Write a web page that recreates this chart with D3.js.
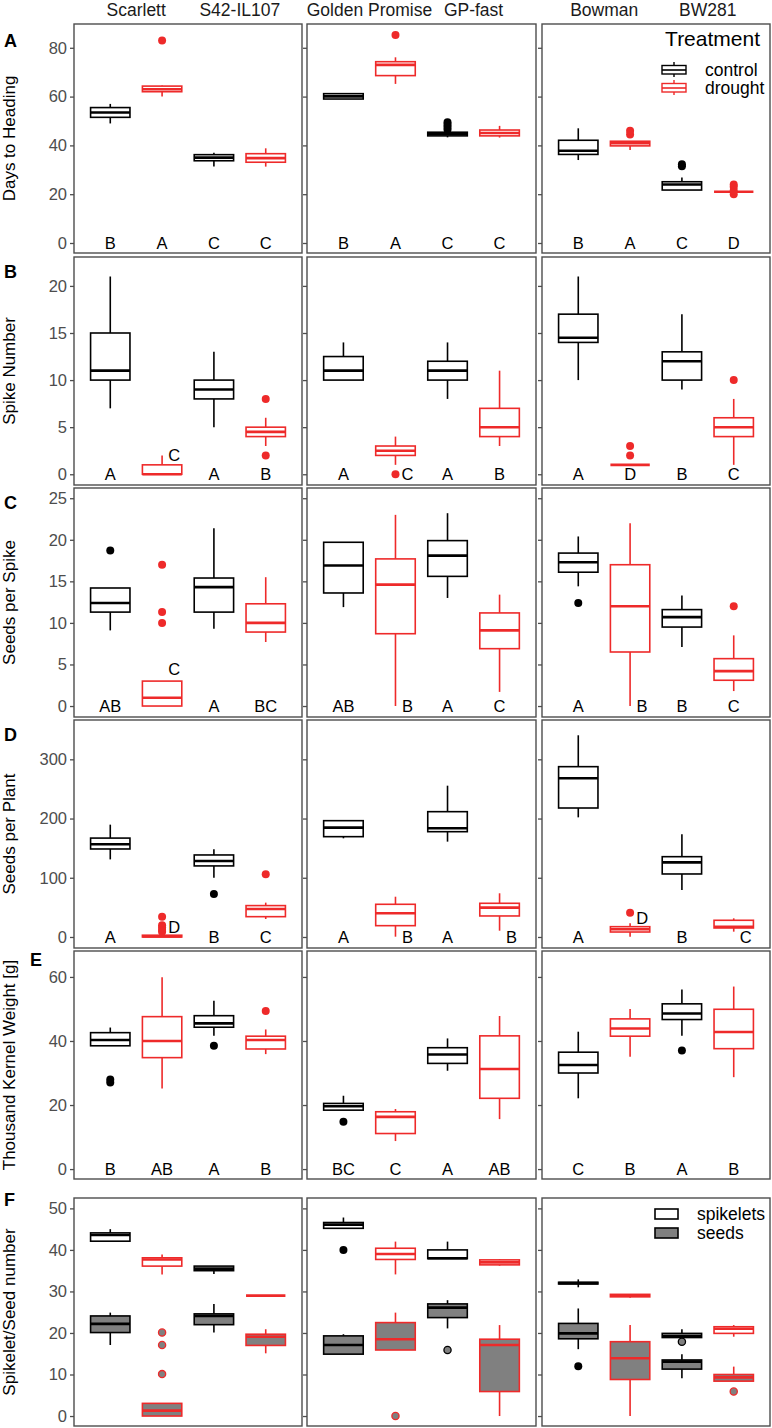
<!DOCTYPE html>
<html><head><meta charset="utf-8">
<script src="https://cdn.jsdelivr.net/npm/d3@7"></script>
<style>body{margin:0;background:#fff}svg{display:block}text{font-family:"Liberation Sans",Arial,sans-serif}</style>
</head><body><svg id="c" width="772" height="1428"></svg>
<script>
// ---------- data ----------
const genotypes = ["Scarlett","S42-IL107","Golden Promise","GP-fast","Bowman","BW281"];
const treatments = ["control","drought"];
// box stats per group, order: genotype x treatment: [min, q1, median, q3, max]
const daysToHeading = [[49,51.5,53.5,55.5,57],[60,62,63,64.3,64.5],[31.3,33.7,35,36.2,37],[31.3,33.1,34.8,36.6,38.8],
  [59,59,60.1,61.2,61.2],[65.2,68.6,73,74.3,76.1],[43.3,43.9,44.7,45.4,45.4],[43.2,43.9,45.1,46.3,48],
  [34,36.3,37.8,42.1,47],[38.1,39.8,40.9,41.7,41.7],[21.7,21.7,24,25.1,26.8],[21,21,21,21,21]];
const daysToHeadingOut = [[],[83],[],[],[],[85.2],[46.5,47.5,48.5,49.5],[],[],[44.5,46],[31.5,32.3],[20,21.5,23,24]];
const daysToHeadingLetters = ["B","A","C","C","B","A","C","C","B","A","C","D"];
const daysToHeadingLetterY = [0,0,0,0,0,0,0,0,0,0,0,0];

const spikeNumber = [[7,10,11,15,21],[0,0,0,1,2],[5,8,9,10,13],[3,4,4.5,5,6],
  [10,10,11,12.5,14],[1,2,2.5,3,4],[8,10,11,12,14],[3,4,5,7,11],
  [10,14,14.5,17,21],[1,1,1,1,1],[9,10,12,13,17],[1,4,5,6,8]];
const spikeNumberOut = [[],[],[],[8,2],[],[0],[],[],[],[2,3],[],[10]];
const spikeNumberLetters = ["A","C","A","B","A","C","A","B","A","D","B","C"];
const spikeNumberLetterY = [0,2,0,0,0,0,0,0,0,0,0,0];

const seedsPerSpike = [[9.1,11.3,12.4,14.2,14.2],[0,0,1,3,3],[9.3,11.3,14.3,15.4,21.4],[7.7,8.9,10,12.3,15.5],
  [11.9,13.6,16.9,19.7,19.7],[0,8.7,14.6,17.7,23],[13,15.6,18.1,19.9,23.2],[1.7,6.9,9.1,11.2,13.4],
  [14.4,16.1,17.3,18.4,20.4],[0,6.5,12,17,22],[7.1,9.5,10.7,11.6,13.3],[1.8,3.1,4.2,5.7,8.5]];
const seedsPerSpikeOut = [[18.7],[17,11.3,10],[],[],[],[],[],[],[12.4],[],[],[12]];
const seedsPerSpikeLetters = ["AB","C","A","BC","AB","B","A","C","A","B","B","C"];
const seedsPerSpikeLetterY = [0,4.5,0,0,0,0,0,0,0,0,0,0];

const seedsPerPlant = [[131,148.6,156.5,167,189.7],[0,0,1,3,5],[100,120,128.3,138.5,148],[30.4,34.3,47.3,53,58],
  [166.6,169.4,184.6,196.4,196.4],[0.5,19.1,40,55.2,68],[161,177.8,183.5,211.6,255.5],[10.6,35.5,49.5,56.9,73.8],
  [202,217.8,268,287.6,340.6],[0.5,8.4,13,17.4,23],[79.4,106.4,126,135.6,173.4],[9,15.2,17.4,28.2,31.5]];
const seedsPerPlantOut = [[],[34,20,16,12,9],[72.6],[106],[],[],[],[],[],[41],[],[]];
const seedsPerPlantLetters = ["A","D","B","C","A","B","A","B","A","D","B","C"];
const seedsPerPlantLetterY = [0,17,0,0,0,0,0,0,0,31.6,0,0];

const kernelWeight = [[38.5,38.5,40.3,42.6,44.2],[25.2,34.8,40,47.6,59.9],[41.6,44.3,45.5,47.9,52.6],[35.9,37.5,40.3,41.5,43.6],
  [18.4,18.4,19.6,20.5,22.9],[8.75,11.1,16.3,17.9,18.75],[30.7,33,35.8,37.9,40.8],[15.6,22.1,31.25,41.6,47.8],
  [22.1,30,32.5,36.5,42.9],[35.1,41.5,43.9,46.9,50],[41.6,46.7,48.6,51.6,56.1],[28.7,37.6,42.8,49.9,57]];
const kernelWeightOut = [[27,28],[],[38.5],[49.4],[14.8],[],[],[],[],[],[37],[]];
const kernelWeightLetters = ["B","AB","A","B","BC","C","A","AB","C","B","A","B"];
const kernelWeightLetterY = [0,0,0,0,0,0,0,0,0,0,0,0];

const spikelets = [[42.1,42.1,43.6,44.1,45],[34.1,36.1,37.7,38.1,38.9],[34.2,35,35.5,36.1,36.1],[29,29,29,29,29],
  [45.2,45.2,46.1,46.6,47.8],[34.1,37.7,39,40.4,42],[37.9,37.9,38,40,42],[36.2,36.4,37,37.6,37.8],
  [31,31.8,32,32.2,32.9],[28.5,28.7,29,29.3,29.4],[18.9,18.9,19.3,19.9,20.9],[19.1,19.9,21,21.5,21.9]];
const spikeletsOut = [[],[],[],[],[40],[],[],[],[12],[],[],[]];
const seeds = [[17.1,20.1,22.2,24.1,24.9],[0,0,1.3,3.05,3.05],[20.1,22,24.1,24.6,27],[15.1,17,19.1,19.7,20.9],
  [14.9,14.9,17.1,19.3,19.7],[15.9,15.9,18.5,22.5,24.9],[21.1,23.7,26.1,27,27.9],[0,5.9,17.1,18.5,21.9],
  [16.1,18.6,19.9,22.3,25.9],[0,8.8,13.9,17.9,21.9],[9.1,11.3,13.1,13.5,14.9],[8.4,8.4,9.3,10,11.9]];
const seedsOut = [[],[20.1,17.1,10.1],[],[],[],[0],[15.9],[],[],[],[17.9],[5.9]];

const countTypes = ["spikelets","seeds"];

// ---------- layout ----------
const C_CTRL = "#000000", C_DRT = "#ee2a2a", GREY = "#808080", FRAME = "#4d4d4d";
const tColor = t => t === 0 ? C_CTRL : C_DRT;
const svg = d3.select("#c");
const cols = [[74,302],[307,536],[542,770]];
const rows = [
  {y:[24,253], dom:[-4.1,89.75], ticks:[0,20,40,60,80], title:"Days to Heading", tag:"A", tagX:4, tagDy:23,
   sets:[{stats:daysToHeading,out:daysToHeadingOut}], letters:daysToHeadingLetters, letterY:daysToHeadingLetterY, nudge:[]},
  {y:[257,485], dom:[-1.14,23.07], ticks:[0,5,10,15,20], title:"Spike Number", tag:"B", tagX:4, tagDy:21,
   sets:[{stats:spikeNumber,out:spikeNumberOut}], letters:spikeNumberLetters, letterY:spikeNumberLetterY, nudge:[1,5]},
  {y:[488,717], dom:[-1.32,26.23], ticks:[0,5,10,15,20,25], title:"Seeds per Spike", tag:"C", tagX:4, tagDy:21,
   sets:[{stats:seedsPerSpike,out:seedsPerSpikeOut}], letters:seedsPerSpikeLetters, letterY:seedsPerSpikeLetterY, nudge:[1,5,9]},
  {y:[720,948], dom:[-18.6,366.4], ticks:[0,100,200,300], title:"Seeds per Plant", tag:"D", tagX:4, tagDy:21,
   sets:[{stats:seedsPerPlant,out:seedsPerPlantOut}], letters:seedsPerPlantLetters, letterY:seedsPerPlantLetterY, nudge:[1,5,7,9,11]},
  {y:[951,1179], dom:[-3.1,68.1], ticks:[0,20,40,60], title:"Thousand Kernel Weight [g]", tag:"E", tagX:30, tagDy:15,
   sets:[{stats:kernelWeight,out:kernelWeightOut}], letters:kernelWeightLetters, letterY:kernelWeightLetterY, nudge:[]},
  {y:[1198,1426], dom:[-2.4,52.5], ticks:[0,10,20,30,40,50], title:"Spikelet/Seed number", tag:"F", tagX:4, tagDy:8,
   sets:[{stats:spikelets,out:spikeletsOut,fill:"#ffffff",outFill:null},{stats:seeds,out:seedsOut,fill:GREY,outFill:GREY}], letters:null}
];

// strip labels
cols.forEach((c,ci)=>{
  const x = d3.scaleLinear().domain([0.4,2.6]).range(c);
  [1,2].forEach(g=>{
    svg.append("text").attr("x",x(g)).attr("y",16).attr("text-anchor","middle")
      .attr("font-size",17.5).attr("fill","#1a1a1a").text(genotypes[ci*2+g-1]);
  });
});

rows.forEach((r,ri)=>{
  const y = d3.scaleLinear().domain(r.dom).range([r.y[1], r.y[0]]);
  // y title
  svg.append("text").attr("transform",`translate(15,${(r.y[0]+r.y[1])/2}) rotate(-90)`)
    .attr("text-anchor","middle").attr("font-size",17).attr("fill","#000").text(r.title);
  svg.append("text").attr("x",r.tagX).attr("y",r.y[0]+r.tagDy).attr("font-size",18).attr("font-weight","bold").text(r.tag);
  cols.forEach((c,ci)=>{
    const x = d3.scaleLinear().domain([0.4,2.6]).range(c);
    const g = svg.append("g");
    // axis
    const ax = d3.axisLeft(y).tickValues(r.ticks).tickSize(4).tickPadding(3);
    if (ci>0) ax.tickFormat("");
    const axg = g.append("g").attr("transform",`translate(${c[0]},0)`).call(ax);
    axg.select(".domain").remove();
    axg.selectAll("line").attr("stroke",FRAME).attr("stroke-width",1.3);
    axg.selectAll("text").attr("font-size",16.5).attr("fill","#4d4d4d").attr("font-family","Liberation Sans, Arial, sans-serif");
    r.sets.forEach(set=>{
      for (let gi=0; gi<2; gi++) for (let t=0; t<2; t++){
        const idx = ci*4 + gi*2 + t;
        const s = set.stats[idx];
        const cx = x(gi+1 + (t===0?-0.25:0.25));
        const hw = x(0.59)-x(0.4);
        const col = tColor(t);
        g.append("line").attr("x1",cx).attr("x2",cx).attr("y1",y(s[3])).attr("y2",y(s[4])).attr("stroke",col).attr("stroke-width",1.6);
        g.append("line").attr("x1",cx).attr("x2",cx).attr("y1",y(s[1])).attr("y2",y(s[0])).attr("stroke",col).attr("stroke-width",1.6);
        g.append("rect").attr("x",cx-hw).attr("width",2*hw).attr("y",y(s[3])).attr("height",Math.max(0,y(s[1])-y(s[3])))
          .attr("fill",set.fill||"#ffffff").attr("stroke",col).attr("stroke-width",1.6);
        g.append("line").attr("x1",cx-hw).attr("x2",cx+hw).attr("y1",y(s[2])).attr("y2",y(s[2])).attr("stroke",col).attr("stroke-width",2.6);
        set.out[idx].forEach(o=>{
          g.append("circle").attr("cx",cx).attr("cy",y(o)).attr("r",set.outFill?3.6:4)
            .attr("fill",set.outFill||col).attr("stroke",col).attr("stroke-width",set.outFill?1.3:0);
        });
        if (r.letters){
          const nud = r.nudge.includes(idx) ? 12 : 0;
          g.append("text").attr("x",cx+nud).attr("y",y(r.letterY[idx])).attr("dy","0.36em")
            .attr("text-anchor","middle").attr("font-size",16.5).attr("fill","#000").text(r.letters[idx]);
        }
      }
    });
    g.append("rect").attr("x",c[0]).attr("y",r.y[0]).attr("width",c[1]-c[0]).attr("height",r.y[1]-r.y[0])
      .attr("fill","none").attr("stroke",FRAME).attr("stroke-width",1.4);
  });
});

// Treatment legend
const lg = svg.append("g");
lg.append("text").attr("x",760).attr("y",46).attr("text-anchor","end").attr("font-size",21).text("Treatment");
treatments.forEach((t,i)=>{
  const cy = 70 + i*18, cx = 674, col = tColor(i);
  lg.append("line").attr("x1",cx).attr("x2",cx).attr("y1",cy-8).attr("y2",cy+7).attr("stroke",col).attr("stroke-width",1.4);
  lg.append("rect").attr("x",cx-12).attr("y",cy-4.5).attr("width",24).attr("height",8.5).attr("fill","#fff").attr("stroke",col).attr("stroke-width",1.4);
  lg.append("line").attr("x1",cx-12).attr("x2",cx+12).attr("y1",cy).attr("y2",cy).attr("stroke",col).attr("stroke-width",1.6);
  lg.append("text").attr("x",705).attr("y",cy).attr("dy","0.36em").attr("font-size",17.5).text(t);
});
// count-type legend
countTypes.forEach((t,i)=>{
  const cy = 1214 + i*19;
  lg.append("rect").attr("x",655).attr("y",cy-5).attr("width",23).attr("height",10)
    .attr("fill",i===0?"#fff":GREY).attr("stroke","#000").attr("stroke-width",1.6);
  lg.append("text").attr("x",697).attr("y",cy).attr("dy","0.36em").attr("font-size",17.5).text(t);
});
</script></body></html>
